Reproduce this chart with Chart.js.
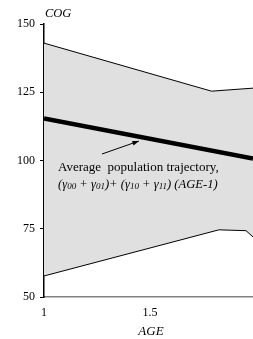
<!DOCTYPE html>
<html>
<head>
<meta charset="utf-8">
<script src="https://cdn.jsdelivr.net/npm/chart.js@4/dist/chart.umd.min.js"></script>
<style>
html,body{margin:0;padding:0;background:#fff;}
#wrap{width:253px;height:339px;position:relative;}
</style>
</head>
<body>
<div id="wrap"><canvas id="c" width="253" height="339"></canvas></div>
<script>
// Data
const upperAge = [1, 1.79, 1.986];
const upperCog = [143, 125.4, 126.5];
const lowerAge = [1, 1.825, 1.953, 1.986];
const lowerCog = [57.7, 74.6, 74.3, 72];
const avgAge = [1, 1.986];
const avgCog = [115.4, 100.7];
const yTicks = [50, 75, 100, 125, 150];
const xTicks = [1, 1.5];
const yTitle = 'COG';
const xTitle = 'AGE';
const noteLine1 = 'Average  population trajectory,';
// [text, isSubscript]
const noteLine2 = [['(\u03B3', 0], ['00', 1], [' + \u03B3', 0], ['01', 1], [')+ (\u03B3', 0], ['10', 1],
                   [' + \u03B3', 0], ['11', 1], [') (AGE-1)', 0]];

const pts = (xs, ys) => xs.map((x, i) => ({x: x, y: ys[i]}));
const FONT = '"Liberation Serif", "DejaVu Serif", serif';

const annot = {
  id: 'annot',
  afterDatasetsDraw(chart) {
    const ctx = chart.ctx;
    const xs = chart.scales.x;
    ctx.save();
    ctx.fillStyle = '#000';
    ctx.textBaseline = 'alphabetic';
    // axis titles
    ctx.font = 'italic 12.5px ' + FONT;
    ctx.textAlign = 'left';
    ctx.fillText(yTitle, xs.getPixelForValue(1) + 1, 17);
    ctx.font = 'italic 13px ' + FONT;
    ctx.textAlign = 'center';
    ctx.fillText(xTitle, xs.getPixelForValue(1.5) + 1, 335);
    // annotation text
    ctx.textAlign = 'left';
    ctx.font = '13px ' + FONT;
    ctx.fillText(noteLine1, 58, 171);
    let x = 58;
    noteLine2.forEach(([t, sub]) => {
      ctx.font = sub ? 'italic 9px ' + FONT : 'italic 12.6px ' + FONT;
      ctx.fillText(t, x, sub ? 189 : 188);
      x += ctx.measureText(t).width;
    });
    // arrow
    const x0 = 102, y0 = 154, x1 = 139, y1 = 141;
    ctx.strokeStyle = '#000';
    ctx.lineWidth = 1;
    ctx.beginPath();
    ctx.moveTo(x0, y0);
    ctx.lineTo(x1, y1);
    ctx.stroke();
    const ang = Math.atan2(y1 - y0, x1 - x0);
    const L = 7, W = 0.35;
    ctx.beginPath();
    ctx.moveTo(x1, y1);
    ctx.lineTo(x1 - L * Math.cos(ang - W), y1 - L * Math.sin(ang - W));
    ctx.lineTo(x1 - L * Math.cos(ang + W), y1 - L * Math.sin(ang + W));
    ctx.closePath();
    ctx.fill();
    ctx.restore();
  }
};

new Chart(document.getElementById('c'), {
  type: 'line',
  data: {
    datasets: [
      {data: pts(upperAge, upperCog), borderColor: '#000', borderWidth: 1, pointRadius: 0,
       fill: '+1', backgroundColor: '#e0e0e0', tension: 0, order: 2},
      {data: pts(lowerAge, lowerCog), borderColor: '#000', borderWidth: 1, pointRadius: 0,
       fill: false, tension: 0, order: 1},
      {data: pts(avgAge, avgCog), borderColor: '#000', borderWidth: 4.5, pointRadius: 0,
       fill: false, tension: 0, borderCapStyle: 'butt', order: 0}
    ]
  },
  options: {
    responsive: false,
    animation: false,
    layout: {padding: {top: 24, right: 0, left: 0, bottom: 0}},
    plugins: {legend: {display: false}, tooltip: {enabled: false}},
    scales: {
      x: {
        type: 'linear', min: 1, max: 1.986,
        afterBuildTicks: s => { s.ticks = xTicks.map(v => ({value: v})); },
        afterFit: s => { s.height = 42; },
        grid: {display: false, drawTicks: false},
        border: {display: true, color: '#808080', width: 1.5},
        ticks: {color: '#000', font: {family: FONT, size: 12}, padding: 9,
                callback: v => String(v)}
      },
      y: {
        type: 'linear', min: 50, max: 150,
        afterBuildTicks: s => { s.ticks = yTicks.map(v => ({value: v})); },
        afterFit: s => { s.width = 44; },
        grid: {drawOnChartArea: false, drawTicks: true, tickLength: 4, color: '#000'},
        border: {display: true, color: '#000', width: 1.5},
        ticks: {color: '#000', font: {family: FONT, size: 12}, padding: 5}
      }
    }
  },
  plugins: [annot]
});
</script>
</body>
</html>
